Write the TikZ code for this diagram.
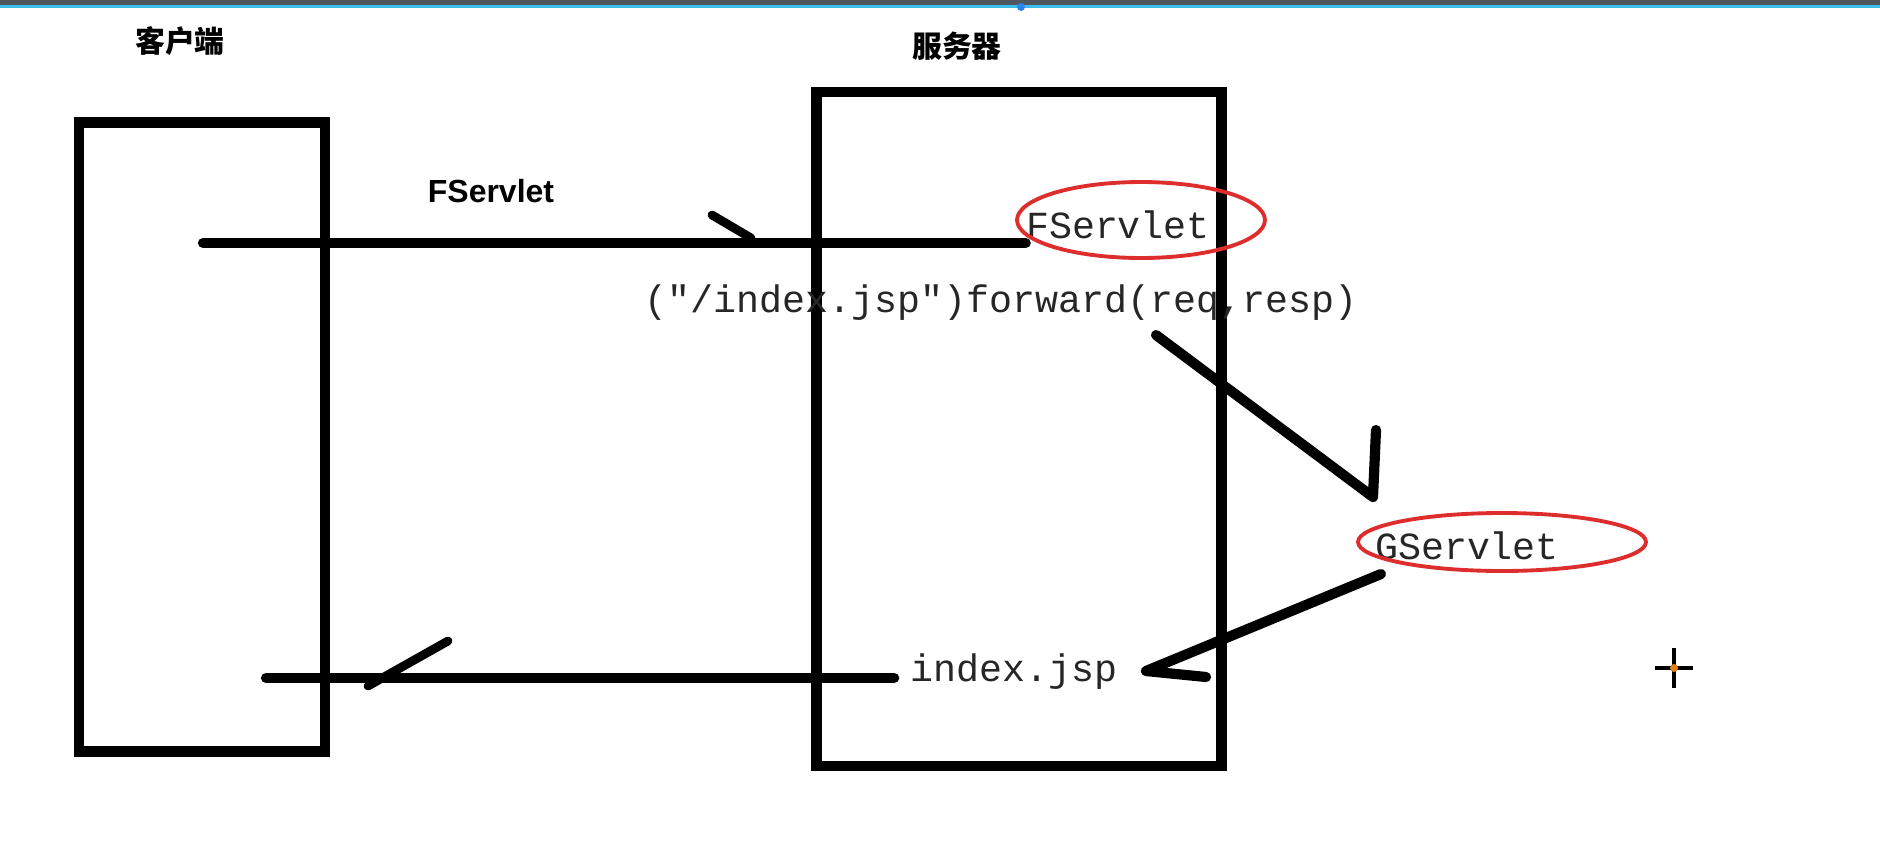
\documentclass[tikz,border=0pt]{standalone}
\usepackage{fontspec}
\setmonofont{Liberation Mono}
\newfontfamily\cjk{Noto Sans CJK SC}
\newfontfamily\labelfont{Liberation Sans}
\usetikzlibrary{shapes.geometric,positioning}
\definecolor{ringred}{RGB}{222,45,45}
\definecolor{bargray}{RGB}{78,86,94}
\definecolor{barcyan}{RGB}{60,190,235}

\begin{document}
\begin{tikzpicture}[x=0.02cm,y=-0.02cm,line cap=round,line join=round,
  box/.style={rectangle,draw,line width=5.8pt,line cap=rect,line join=miter},
  title/.style={font=\cjk\bfseries\fontsize{17}{20}\selectfont},
  code/.style={inner sep=0pt,text=black!85,font=\ttfamily\fontsize{21.8}{26}\selectfont},
  ring/.style={ellipse,draw=ringred,line width=2.2pt},
  wire/.style={line width=5.8pt},
  barb/.style={line width=5pt}]

  \useasboundingbox (0,0) rectangle (1880,866);
  \fill[bargray] (0,0) rectangle (1880,5);
  \fill[barcyan] (0,5) rectangle (1880,8);
  \fill[barcyan!70!blue] (1021,7) circle (4);

  \node[box,minimum width=4.92cm,minimum height=12.58cm] (client) at (202,437) {};
  \node[box,minimum width=8.1cm,minimum height=13.48cm] (server) at (1019,429) {};
  \node[title] (clientname) at (180,41) {客户端};
  \node[title] (servername) at (957,46) {服务器};

  \node[font=\labelfont\bfseries\fontsize{18.2}{22}\selectfont] (req) at (491,191) {FServlet};
  \node[code] (f) at (1118,225) {FServlet};
  \node[ring,minimum width=4.96cm,minimum height=1.52cm] (fring) at (1141,220) {};
  \node[code] (fwd) at (1001,303) {("/index.jsp")forward(req,resp)};
  \node[code] (g) at (1467,546) {GServlet};
  \node[ring,minimum width=5.76cm,minimum height=1.16cm] (gring) at (1502,542) {};
  \node[code] (idx) at (1014,672) {index.jsp};

  \coordinate (in) at (203,243);
  \coordinate (out) at (266,678);
  \coordinate (down) at (1156,335);
  \coordinate (tip) at (1373,497);
  \coordinate (back) at (1381,574);
  \coordinate (end) at (1146,671);

  % request
  \draw[wire] (in) -- (in -| f.west);
  \draw[barb] (712,215) -- (751,238);
  % forward
  \draw[wire] (down) -- (tip) -- (1376,430);
  \draw[wire] (back) -- (end) -- (1206,677);
  % response
  \draw[wire] (idx.west |- out) ++(-16,0) -- (out);
  \draw[barb] (368,686) -- (448,641);

  \draw[line width=2.5pt,line cap=butt] (1674,648) -- (1674,688) (1655,668) -- (1693,668);
  \fill[orange!60!brown] (1674,668) circle (4);
\end{tikzpicture}
\end{document}
